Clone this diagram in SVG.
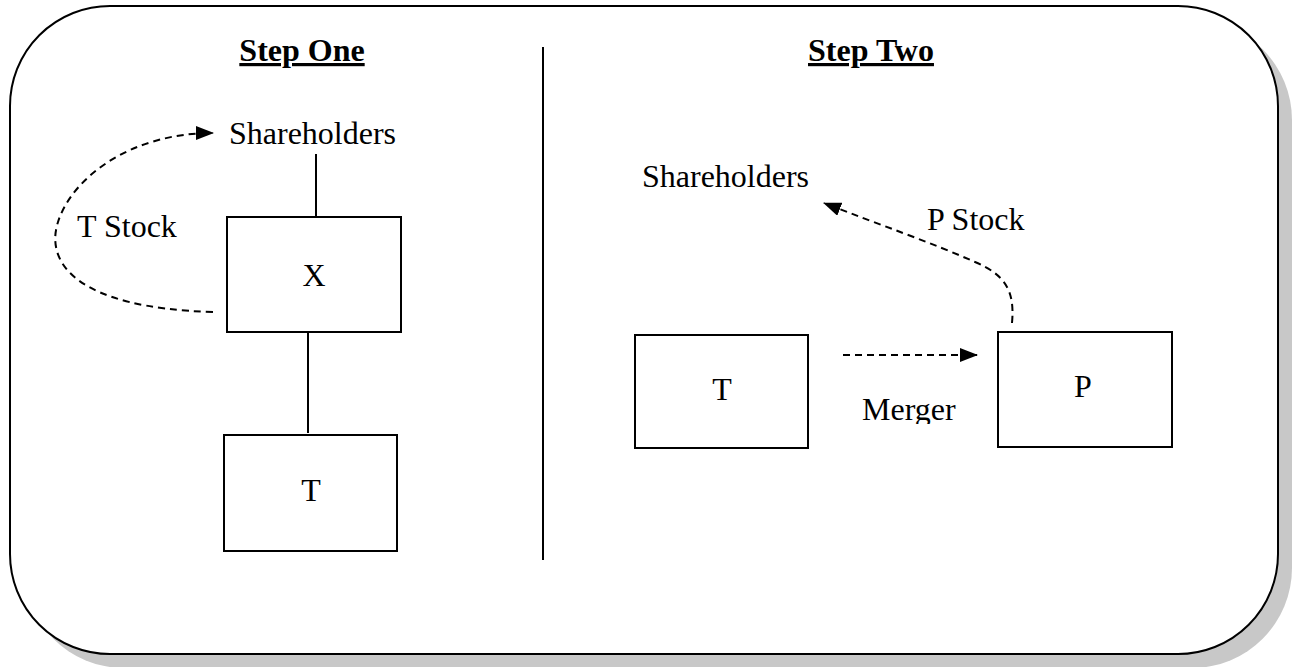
<svg xmlns="http://www.w3.org/2000/svg" width="1296" height="667" viewBox="0 0 1296 667">
<style>
text{font-family:"Liberation Serif","Times New Roman",serif;font-size:32px;fill:#000}
.h{font-weight:bold;text-decoration:underline}
.box{fill:#fff;stroke:#000;stroke-width:2}
.ln{stroke:#000;stroke-width:2;fill:none}
.ds{stroke:#000;stroke-width:2;fill:none;stroke-dasharray:7,5}
</style>
<defs>
<marker id="ah" markerWidth="18" markerHeight="14" refX="17" refY="7" orient="auto" markerUnits="userSpaceOnUse">
<path d="M0,0 L18,7 L0,14 Z" fill="#000"/>
</marker>
<clipPath id="mclip"><rect x="840" y="380" width="140" height="44"/></clipPath>
</defs>
<g id="frame">
<rect x="24" y="20" width="1268" height="648" rx="100" ry="100" fill="#c8c8c8"/>
<rect x="10" y="6" width="1268" height="648" rx="100" ry="100" fill="#fff" stroke="#000" stroke-width="2"/>
</g>
<g id="headings">
<text class="h" x="302" y="61" text-anchor="middle">Step One</text>
<text class="h" x="871" y="61" text-anchor="middle">Step Two</text>
<line class="ln" x1="543" y1="47" x2="543" y2="560"/>
</g>
<g id="sh1"><text x="229" y="144">Shareholders</text></g>
<g id="x1"><rect class="box" x="227" y="217" width="174" height="115"/><text x="314" y="286" text-anchor="middle">X</text></g>
<g id="t1"><rect class="box" x="224" y="435" width="173" height="116"/><text x="311" y="501" text-anchor="middle">T</text></g>
<g id="sh2"><text x="642" y="187">Shareholders</text></g>
<g id="t2"><rect class="box" x="635" y="335" width="173" height="113"/><text x="722" y="400" text-anchor="middle">T</text></g>
<g id="p2"><rect class="box" x="998" y="332" width="174" height="115"/><text x="1083" y="397" text-anchor="middle">P</text></g>
<g id="connectors">
<line class="ln" x1="316" y1="154" x2="316" y2="217"/>
<line class="ln" x1="308" y1="332" x2="308" y2="433"/>
<path class="ds" d="M213,312 C75,308 45,262 58,222 C72,178 130,133 213,133" marker-end="url(#ah)"/>
<line class="ds" x1="843" y1="355" x2="977" y2="355" marker-end="url(#ah)"/>
<path class="ds" d="M1012,323 C1015,290 1005,275 975,262 C930,242 880,225 824,203" marker-end="url(#ah)"/>
</g>
<g id="labels">
<text x="77" y="237">T Stock</text>
<text x="927" y="230">P Stock</text>
<text x="862" y="420" clip-path="url(#mclip)">Merger</text>
</g>
</svg>
